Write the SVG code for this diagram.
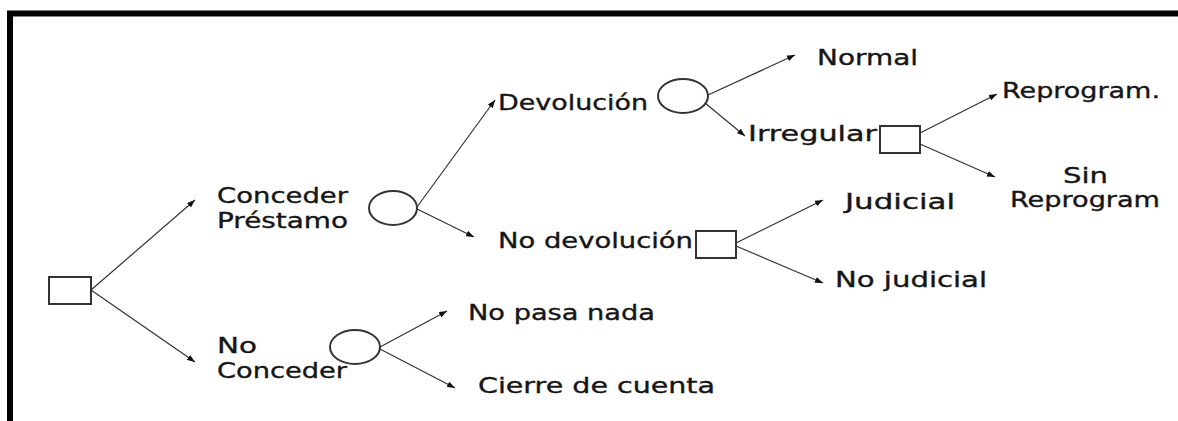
<svg xmlns="http://www.w3.org/2000/svg" width="1178" height="421" viewBox="0 0 1178 421">
<defs>
<style>
.lbl{font-family:"DejaVu Sans","Liberation Sans",sans-serif;font-size:21px;fill:#161616;stroke:#161616;stroke-width:0.35;}
.node{fill:#fff;stroke:#333;stroke-width:2;}
.edge{stroke:#333;stroke-width:1.2;fill:none;marker-end:url(#arr);}
</style>
<marker id="arr" viewBox="0 0 8 6" refX="8" refY="3" markerWidth="8" markerHeight="6" markerUnits="userSpaceOnUse" orient="auto">
<path d="M0,0 L8,3 L0,6 z" fill="#111"/>
</marker>
</defs>
<rect width="1178" height="421" fill="#fff"/>
<path d="M10,421 L10,13.5 L1178,13.5" fill="none" stroke="#000" stroke-width="6"/>
<g id="connectors">
<line class="edge" x1="91" y1="290" x2="195" y2="200"/>
<line class="edge" x1="91" y1="290" x2="195" y2="362"/>
<line class="edge" x1="417" y1="207" x2="495" y2="100"/>
<line class="edge" x1="417" y1="209" x2="474" y2="237"/>
<line class="edge" x1="708" y1="95" x2="795" y2="55"/>
<line class="edge" x1="705" y1="103" x2="745" y2="136"/>
<line class="edge" x1="920" y1="133" x2="997" y2="94"/>
<line class="edge" x1="920" y1="144" x2="995" y2="177"/>
<line class="edge" x1="736" y1="243" x2="823" y2="200"/>
<line class="edge" x1="736" y1="246" x2="823" y2="283"/>
<line class="edge" x1="380" y1="347" x2="447" y2="311"/>
<line class="edge" x1="380" y1="349" x2="455" y2="388"/>
</g>
<g id="n-root"><rect class="node" x="49" y="277" width="42" height="27"/></g>
<g id="n-conceder">
<text class="lbl" x="217" y="203" textLength="131" lengthAdjust="spacingAndGlyphs">Conceder</text>
<text class="lbl" x="217" y="228" textLength="131" lengthAdjust="spacingAndGlyphs">Préstamo</text>
<ellipse class="node" cx="393" cy="208" rx="24" ry="17"/>
</g>
<g id="n-noconceder">
<text class="lbl" x="217" y="353" textLength="40" lengthAdjust="spacingAndGlyphs">No</text>
<text class="lbl" x="217" y="378" textLength="130" lengthAdjust="spacingAndGlyphs">Conceder</text>
<ellipse class="node" cx="355" cy="347" rx="25" ry="17"/>
</g>
<g id="n-devolucion">
<text class="lbl" x="498" y="110" textLength="150" lengthAdjust="spacingAndGlyphs">Devolución</text>
<ellipse class="node" cx="683" cy="96" rx="25" ry="17"/>
</g>
<g id="n-nodevolucion">
<text class="lbl" x="498" y="248" textLength="195" lengthAdjust="spacingAndGlyphs">No devolución</text>
<rect class="node" x="696" y="231" width="40" height="27"/>
</g>
<g id="n-normal"><text class="lbl" x="817" y="65" textLength="101" lengthAdjust="spacingAndGlyphs">Normal</text></g>
<g id="n-irregular">
<text class="lbl" x="748" y="141" textLength="129" lengthAdjust="spacingAndGlyphs">Irregular</text>
<rect class="node" x="880" y="126" width="40" height="27"/>
</g>
<g id="n-reprogram"><text class="lbl" x="1002" y="98" textLength="158" lengthAdjust="spacingAndGlyphs">Reprogram.</text></g>
<g id="n-sinreprogram">
<text class="lbl" x="1063" y="183" textLength="45" lengthAdjust="spacingAndGlyphs">Sin</text>
<text class="lbl" x="1010" y="207" textLength="150" lengthAdjust="spacingAndGlyphs">Reprogram</text>
</g>
<g id="n-judicial"><text class="lbl" x="845" y="209" textLength="110" lengthAdjust="spacingAndGlyphs">Judicial</text></g>
<g id="n-nojudicial"><text class="lbl" x="835" y="287" textLength="152" lengthAdjust="spacingAndGlyphs">No judicial</text></g>
<g id="n-nopasanada"><text class="lbl" x="468" y="320" textLength="187" lengthAdjust="spacingAndGlyphs">No pasa nada</text></g>
<g id="n-cierre"><text class="lbl" x="478" y="393" textLength="237" lengthAdjust="spacingAndGlyphs">Cierre de cuenta</text></g>
</svg>
